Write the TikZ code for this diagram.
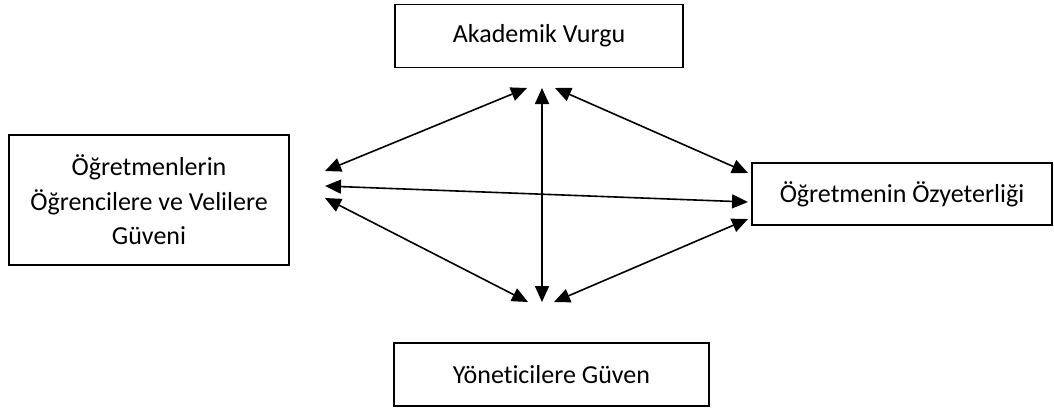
\documentclass[tikz,border=0pt]{standalone}
\usepackage{fontspec}
\setmainfont[Ligatures={NoCommon}]{Carlito}
\usetikzlibrary{arrows.meta}

\begin{document}
\begin{tikzpicture}[x=1pt,y=-1pt,line width=1.6pt,
  box/.style={draw,rectangle,align=center,inner sep=0pt,font=\fontsize{26}{34.5}\selectfont},
  >={Triangle[length=16pt,width=14pt]}]
\useasboundingbox (0,0) rectangle (1054,410);
\node[box,minimum width=288pt,minimum height=63pt]	(vurgu)	at (539,36)	{Akademik Vurgu};
\node[box,minimum width=280pt,minimum height=130pt]	(guven)	at (149,200)	{Öğretmenlerin\\Öğrencilere ve Velilere\\Güveni};
\node[box,minimum width=300pt,minimum height=62pt]	(ozyet)	at (902,194)	{Öğretmenin Özyeterliği};
\node[box,minimum width=315pt,minimum height=63pt]	(yonet)	at (551.5,374.5)	{Yöneticilere Güven};
% arrow ends
\coordinate (v_1) at (527,88);
\coordinate (v_2) at (542,88);
\coordinate (v_3) at (555,88);
\coordinate (g_1) at (325,171);
\coordinate (g_2) at (325,186);
\coordinate (g_3) at (325,198);
\coordinate (o_1) at (748,173);
\coordinate (o_2) at (748,202);
\coordinate (o_3) at (748,219);
\coordinate (y_1) at (528,302);
\coordinate (y_2) at (542,302);
\coordinate (y_3) at (554,302);
\path[<->]	(g_1)	edge	(v_1)
		(v_3)	edge	(o_1)
		(g_2)	edge	(o_2)
		(g_3)	edge	(y_1)
		(y_3)	edge	(o_3)
		(v_2)	edge	(y_2);
\end{tikzpicture}
\end{document}
